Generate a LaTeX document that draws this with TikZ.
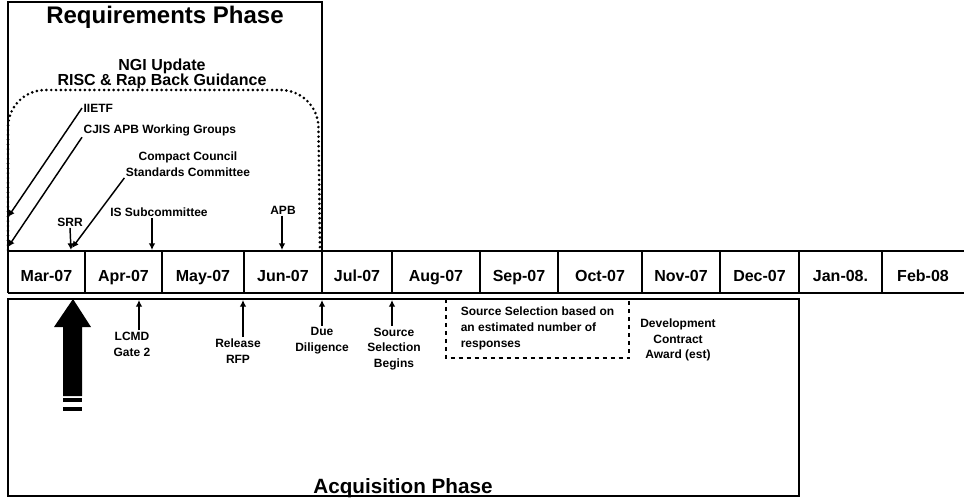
\documentclass[tikz,border=0pt]{standalone}
\usepackage{fontspec}
\setmainfont{Liberation Sans}
\usetikzlibrary{arrows.meta,positioning}

\begin{document}
\begin{tikzpicture}[x=0.75pt,y=-0.75pt]
\tikzstyle{month} = [
	font=\bfseries\fontsize{12}{14}\selectfont, %month names
	inner sep=0pt,
	anchor=base
];
\tikzstyle{milestone} = [
	font=\bfseries\fontsize{9}{11.8}\selectfont,
	align=center,
	inner sep=1pt
];
\tikzstyle{phase} = [
	font=\bfseries\fontsize{15.5}{18}\selectfont,
	inner sep=0pt,
	anchor=base
];
\tikzstyle{frame} = [line width=1.5pt, color=black];
\tikzstyle{pointer} = [-{Latex[length=5pt,width=5pt]}, line width=1.1pt, color=black];

\useasboundingbox (0,0) rectangle (964,501);

%phase frames
\draw[frame] (8,1.5) rectangle (322,251);
\draw[frame] (8,299) rectangle (799,496);

%timeline
\draw[frame] (8,251) -- (964,251);
\draw[frame] (8,293) -- (964,293);
\draw[frame] (8,251) -- (8,293);
\foreach \l/\r/\txt [count=\i] in {8/85/Mar-07, 85/162/Apr-07, 162/244/May-07,
	244/322/Jun-07, 322/392/Jul-07, 392/480/Aug-07, 480/558/Sep-07,
	558/642/Oct-07, 642/720/Nov-07, 720/799/Dec-07, 799/882/Jan-08.,
	882/964/Feb-08}
{
	\node[month] (m\i) at ({(\l+\r)/2},281.5) {\txt};
	\ifnum\i>1 \draw[line width=1.1pt] (\l,251) -- (\l,293); \fi
}

%titles
\node[phase, font=\bfseries\fontsize{18}{20}\selectfont] (req) at (165,23) {Requirements Phase};
\node[phase] (acq) at (403,493) {Acquisition Phase};
\node[font=\bfseries\fontsize{12}{11.5}\selectfont, align=center, inner sep=0pt]
	(ngi) at (162,74) {NGI Update\\RISC \& Rap Back Guidance};

%dotted span of the update
\draw[line width=2.2pt, line cap=round, dash pattern=on 0pt off 3.6pt, rounded corners=28]
	(8,250) -- (8,90) -- (318,90) -- (320,250);

%requirements milestones
\coordinate (iietfT) at (8,217);
\coordinate (cjisT) at (8,247);
\coordinate (compactT) at (72,248);
\coordinate (srrT) at (71,250);
\coordinate (isT) at (152,250);
\coordinate (apbT) at (282,250);

\node[milestone, anchor=west] (iietf) at (82,108) {IIETF};
\node[milestone, anchor=west] (cjis) at (82,130) {CJIS APB Working Groups};
\node[milestone] (compact) at (188,164) {Compact Council\\Standards Committee};
\node[milestone] (srr) at (70,222) {SRR};
\node[milestone] (issub) at (159,212) {IS Subcommittee};
\node[milestone] (apb) at (283,210) {APB};

\draw[pointer] (iietf.west) -- (iietfT);
\draw[pointer] (cjis.south west) -- (cjisT);
\draw[pointer] (compact.south west) -- (compactT);
\draw[pointer] (srr.south) -- (srrT);
\draw[pointer] (issub.south -| isT) -- (isT);
\draw[pointer] (apb.south -| apbT) -- (apbT);

%acquisition milestones
\coordinate (lcmdT) at (139,300);
\coordinate (rfpT) at (243,300);
\coordinate (dueT) at (322,300);
\coordinate (srcT) at (392,300);

\node[milestone] (lcmd) at (132,344) {LCMD\\Gate 2};
\node[milestone] (rfp) at (238,351) {Release\\RFP};
\node[milestone] (due) at (322,341) {Due\\Diligence};
\node[milestone] (srcbeg) at (394,349) {Source\\Selection\\Begins};
\node[milestone, align=left, minimum width=137pt, minimum height=44pt, inner sep=0pt]
	(srcsel) at (537.5,328.5) {Source Selection based on\\an estimated number of\\responses};
\node[milestone] (devaward) at (678,340) {Development\\Contract\\Award (est)};

\draw[pointer] (lcmd.north -| lcmdT) -- (lcmdT);
\draw[pointer] (rfp.north -| rfpT) -- (rfpT);
\draw[pointer] (due.north) -- (dueT);
\draw[pointer] (srcbeg.north -| srcT) -- (srcT);

\draw[line width=1.1pt, dashed]
	(srcsel.north west) -- (srcsel.south west) -- (srcsel.south east) -- (srcsel.north east);

%big arrow at the start
\coordinate (startT) at (73,299);
\fill (startT) -- (91,327) -- (82,327) -- (82,396) -- (63,396) -- (63,327) -- (54,327) -- cycle;
\fill (63,398) rectangle (82,402);
\fill (63,407) rectangle (82,411);

\end{tikzpicture}
\end{document}
